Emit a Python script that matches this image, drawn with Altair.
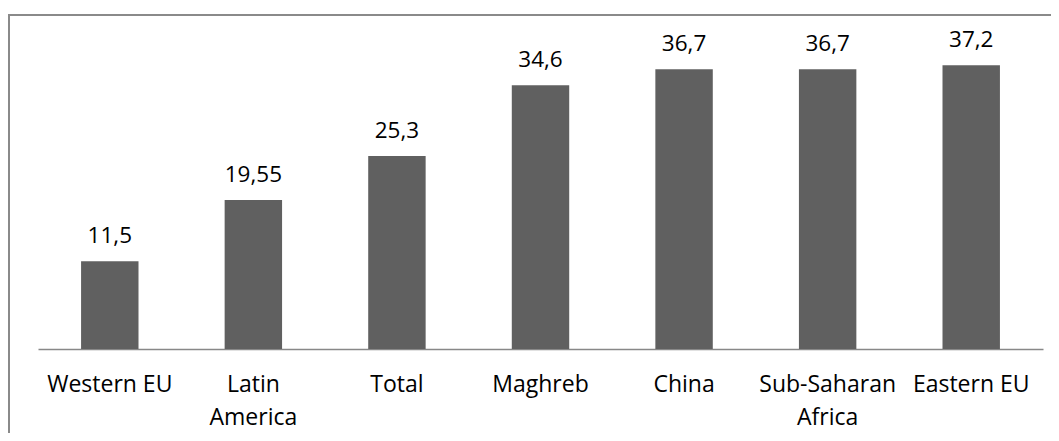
import altair as alt
import pandas as pd

categories = ["Western EU", "Latin America", "Total", "Maghreb", "China", "Sub-Saharan Africa", "Eastern EU"]
values = [11.5, 19.55, 25.3, 34.6, 36.7, 36.7, 37.2]
labels = ["11,5", "19,55", "25,3", "34,6", "36,7", "36,7", "37,2"]

df = pd.DataFrame({"cat": categories, "val": values, "lab": labels})

FONT = "Open Sans"
W, H = 1005, 305

x = alt.X("cat:N", sort=categories, title=None,
          scale=alt.Scale(paddingInner=0.6, paddingOuter=0.3),
          axis=alt.Axis(labelAngle=0, labelFont=FONT, labelFontSize=23, labelColor="#000000",
                        labelPadding=24, labelLineHeight=33, ticks=False,
                        domainColor="#888888", domainWidth=1.5,
                        labelExpr="datum.label == 'Latin America' ? ['Latin', 'America'] : datum.label == 'Sub-Saharan Africa' ? ['Sub-Saharan', 'Africa'] : datum.label"))
y = alt.Y("val:Q", scale=alt.Scale(domain=[0, 40]), axis=None)

bars = alt.Chart(df).mark_bar(color="#606060").encode(x=x, y=y)
text = alt.Chart(df).mark_text(font=FONT, fontSize=22.5, color="#000000", baseline="alphabetic", dy=-18).encode(
    x=alt.X("cat:N", sort=categories), y=y, text="lab:N")

frame_left = alt.Chart(df).mark_rule(color="#8a8a8a", strokeWidth=2).encode(
    x=alt.value(-29), y=alt.value(-30), y2=alt.value(H + 200))
frame_top = alt.Chart(df).mark_rule(color="#8a8a8a", strokeWidth=2).encode(
    x=alt.value(-30), x2=alt.value(W + 100), y=alt.value(-29))

chart = alt.layer(bars, text, frame_left, frame_top).properties(
    width=W, height=H,
    background="white",
    autosize=alt.AutoSizeParams(type="none"),
    padding={"left": 30, "top": 36, "right": 8, "bottom": 84},
).configure_view(strokeWidth=0, stroke="transparent")

chart.save("out.html", embed_options={"renderer": "svg", "actions": False})
